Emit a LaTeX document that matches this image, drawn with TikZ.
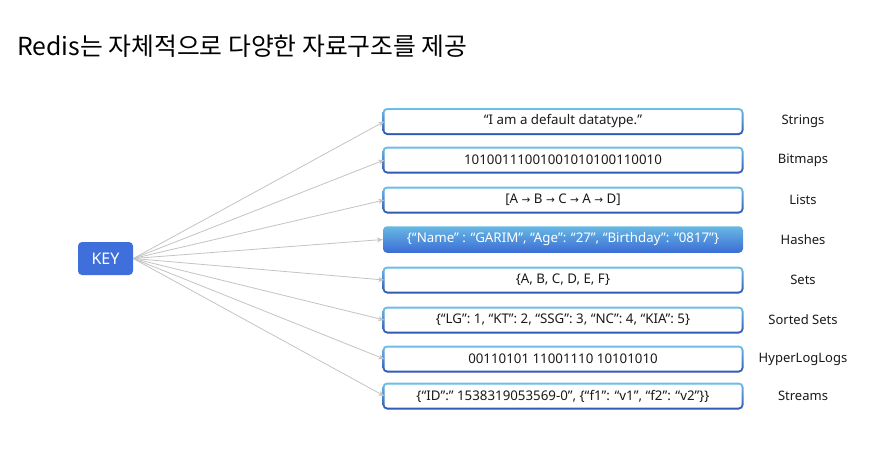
\documentclass[tikz,border=0pt]{standalone}
\usepackage{fontspec}
\setmainfont{Noto Sans}
\newfontfamily\krfont{Noto Sans CJK KR}
\newfontfamily\arrfont{DejaVu Sans}
\usetikzlibrary{arrows.meta}
\pgfdeclarelayer{bg}
\pgfdeclarelayer{frame}
\pgfsetlayers{bg,frame,main}
\definecolor{keyblue}{HTML}{3F6FDA}
\definecolor{bl1}{HTML}{6CC0E8}
\definecolor{bl2}{HTML}{2D55B2}
\definecolor{hs1}{HTML}{68B8E3}
\definecolor{hs2}{HTML}{3B6CD5}
\definecolor{conn}{HTML}{C4C4C4}
\definecolor{txt}{HTML}{1A1A1A}
\newcommand{\ar}{{\arrfont\fontsize{10.5}{12}\selectfont →}}
\tikzset{
  keybox/.style={fill=keyblue, rounded corners=4pt, minimum width=55pt, minimum height=33pt,
    text=white, font=\fontsize{16}{18}\selectfont, inner sep=0pt},
  dbox/.style={fill=white, rounded corners=3pt, minimum width=357pt, minimum height=23pt,
    inner sep=0pt, text=txt, font=\fontsize{13.3}{15}\selectfont},
  hbox/.style={top color=hs1, bottom color=hs2, rounded corners=4pt, minimum width=360pt,
    minimum height=26.5pt, inner sep=0pt, text=white, font=\fontsize{13.3}{15}\selectfont},
  lab/.style={text=txt, font=\fontsize{13}{15}\selectfont, inner sep=0pt},
  connector/.style={draw=conn, line width=0.8pt, -{Stealth[length=6pt,width=5pt]}}
}
\begin{document}
\begin{tikzpicture}[x=1pt,y=-1pt]
\begin{pgfonlayer}{bg}
\fill[white] (0,0) rectangle (889,451);
\end{pgfonlayer}
\useasboundingbox (0,0) rectangle (889,451);
\node[anchor=base west, inner sep=0pt, text=black, font=\krfont\fontsize{24.8}{28}\selectfont] (title) at (17,55) {Redis는 자체적으로 다양한 자료구조를 제공};
\node[keybox] (key) at (105.5,258.5) {KEY};
\foreach \i/\yy/\tx/\lb in {
  1/121.5/{“I am a default datatype.”}/Strings,
  2/160/{10100111001001010100110010}/Bitmaps,
  3/200/{[A \ar\ B \ar\ C \ar\ A \ar\ D]}/Lists,
  5/280/{\{A, B, C, D, E, F\}}/Sets,
  6/320/{\{“LG”: 1, “KT”: 2, “SSG”: 3, “NC”: 4, “KIA”: 5\}}/Sorted Sets,
  7/359/{00110101 11001110 10101010}/HyperLogLogs,
  8/396/{\{“ID”:” 1538319053569-0”, \{“f1”: “v1”, “f2”: “v2”\}\}}/Streams}{
  \node[dbox] (b\i) at (563,\yy) {\tx};
  \begin{pgfonlayer}{frame}
    \shade[rounded corners=4.6pt, top color=bl1, bottom color=bl2]
      ([shift={(-1.8,-1.8)}]b\i.north west) rectangle ([shift={(1.8,1.8)}]b\i.south east);
  \end{pgfonlayer}
  \node[lab] (l\i) at (803,\yy) {\lb};
}
\node[hbox] (b4) at (563,239.5) {\{“Name” : “GARIM”, “Age”: “27”, “Birthday”: “0817”\}};
\node[lab] (l4) at (803,239.5) {Hashes};
\foreach \i in {1,...,8}{
  \draw[connector] (key.east) -- (b\i.west);
}
\end{tikzpicture}
\end{document}
